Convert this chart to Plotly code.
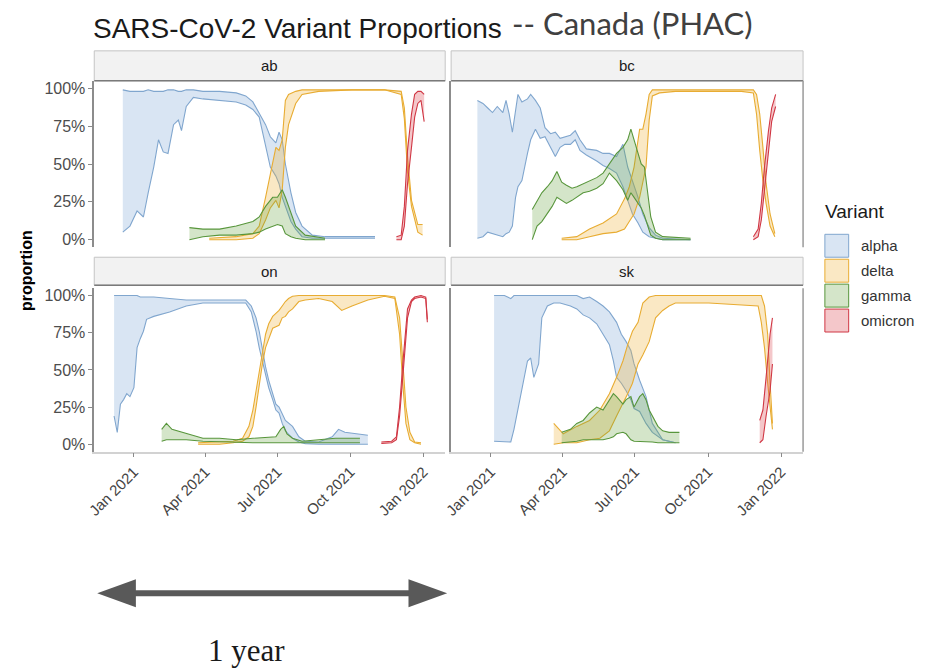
import plotly.graph_objects as go
import pandas as pd

# ---------------- data (x = days since 2021-01-01, y = proportion) ----------------
AB_ALPHA_DAY = [-14,-5,4,12,18,25,31,37,43,50,56,60,66,75,87,108,129,141,150,158,166,172,179,183,187,191,198,204,212,225,241,304]
AB_ALPHA_HI = [.99,.98,.98,.98,.99,.98,.98,.98,.99,.99,.98,.98,.99,.99,.98,.98,.97,.95,.91,.83,.76,.68,.64,.71,.66,.50,.31,.18,.09,.03,.02,.02]
AB_ALPHA_LO = [.05,.09,.19,.15,.31,.48,.66,.58,.57,.76,.79,.72,.88,.94,.93,.92,.91,.89,.86,.81,.61,.48,.42,.37,.28,.22,.12,.07,.02,.01,.01,.01]

AB_DELTA_DAY = [95,129,150,158,166,172,179,183,187,191,195,204,212,233,275,316,337,341,345,350,358,364]
AB_DELTA_HI = [.01,.02,.04,.09,.28,.44,.61,.59,.66,.92,.96,.98,.99,.99,.99,.99,.98,.87,.55,.26,.10,.10]
AB_DELTA_LO = [0,0,.01,.04,.13,.21,.26,.21,.33,.61,.76,.90,.96,.98,.99,.99,.96,.80,.45,.22,.05,.03]

AB_GAMMA_DAY = [70,87,108,129,150,158,166,175,181,187,191,198,204,216,241]
AB_GAMMA_HI = [.08,.07,.07,.09,.12,.15,.22,.28,.28,.33,.28,.17,.09,.03,.01]
AB_GAMMA_LO = [0,.02,.03,.03,.04,.05,.07,.09,.10,.09,.04,.02,.01,0,0]

AB_OMICRON_DAY = [331,337,341,345,350,354,358,362,366]
AB_OMICRON_HI = [.02,.03,.22,.59,.83,.96,.98,.98,.96]
AB_OMICRON_LO = [0,0,.09,.37,.61,.81,.90,.92,.78]

BC_ALPHA_DAY = [-17,-10,-4,2,8,15,19,23,27,31,34,39,46,50,56,62,68,75,81,87,93,100,106,112,120,133,141,149,158,166,172,178,185,191,199,207,216,251]
BC_ALPHA_HI = [.92,.90,.87,.84,.88,.84,.92,.83,.71,.84,.96,.91,.93,.96,.92,.87,.74,.70,.71,.67,.68,.69,.72,.66,.60,.59,.57,.57,.55,.63,.48,.39,.28,.17,.08,.03,.01,0]
BC_ALPHA_LO = [.01,.02,.05,.04,.03,.02,.04,.05,.09,.28,.35,.39,.57,.66,.73,.67,.68,.61,.55,.61,.63,.63,.66,.59,.56,.52,.49,.47,.44,.35,.26,.17,.11,.05,.02,.01,0,0]

BC_DELTA_DAY = [89,108,124,141,158,168,174,180,187,191,195,199,203,212,232,274,315,330,334,338,342,346,351,357]
BC_DELTA_HI = [.01,.02,.07,.11,.17,.27,.35,.48,.73,.73,.83,.96,.99,.99,.99,.99,.99,.99,.96,.83,.61,.37,.17,.04]
BC_DELTA_LO = [0,0,.02,.04,.05,.07,.12,.17,.28,.39,.48,.79,.95,.97,.98,.98,.98,.97,.83,.59,.39,.24,.09,.02]

BC_GAMMA_DAY = [52,58,64,71,77,83,89,95,102,108,116,124,133,141,149,158,166,172,176,180,185,189,193,197,201,207,216,251]
BC_GAMMA_HI = [.20,.26,.31,.35,.39,.45,.38,.36,.34,.35,.37,.39,.41,.44,.50,.57,.61,.66,.73,.66,.57,.50,.48,.33,.15,.05,.02,.01]
BC_GAMMA_LO = [0,.09,.12,.17,.22,.28,.26,.24,.26,.28,.31,.32,.34,.37,.44,.39,.33,.26,.31,.28,.24,.21,.16,.09,.03,.01,0,0]

BC_OMICRON_DAY = [330,336,340,344,349,353,358]
BC_OMICRON_HI = [.02,.07,.24,.48,.72,.87,.96]
BC_OMICRON_LO = [0,.02,.13,.33,.55,.78,.88]

ON_ALPHA_DAY = [-25,-21,-17,-13,-9,-5,0,4,8,12,16,25,45,66,87,108,129,141,148,154,158,162,166,170,175,179,183,187,191,200,208,216,233,250,258,266,295]
ON_ALPHA_HI = [1,1,1,1,1,1,1,1,.99,.99,.99,.99,.98,.97,.97,.97,.97,.97,.93,.85,.76,.63,.52,.43,.34,.27,.25,.21,.16,.12,.05,.02,.015,.05,.10,.08,.06]
ON_ALPHA_LO = [.19,.08,.27,.30,.34,.32,.38,.65,.71,.76,.84,.86,.89,.93,.95,.95,.95,.95,.89,.76,.65,.56,.49,.38,.30,.23,.21,.14,.09,.04,.015,.004,0,0,0,0,0]

ON_DELTA_DAY = [81,108,125,137,145,150,154,158,162,166,170,175,179,183,187,191,195,200,208,216,233,250,262,275,295,316,329,335,339,343,348,354,362]
ON_DELTA_HI = [.01,.015,.02,.04,.12,.23,.36,.49,.63,.74,.81,.86,.88,.90,.93,.96,.98,.995,1,1,1,1,1,1,1,1,.99,.85,.56,.25,.08,.015,.01]
ON_DELTA_LO = [0,0,.01,.02,.05,.12,.25,.41,.54,.65,.71,.78,.79,.80,.85,.86,.89,.91,.96,.97,.98,.96,.90,.93,.97,.995,.98,.74,.41,.14,.03,.01,0]

ON_GAMMA_DAY = [35,41,48,54,66,87,108,129,150,170,179,185,189,193,200,212,233,254,275,285]
ON_GAMMA_HI = [.10,.14,.10,.09,.07,.04,.04,.03,.04,.05,.05,.10,.12,.07,.04,.02,.03,.04,.04,.04]
ON_GAMMA_LO = [.02,.03,.03,.03,.03,.02,.015,.01,.01,.01,.01,.01,.01,.01,.01,.01,.01,.01,.01,.01]

ON_OMICRON_DAY = [312,325,331,335,339,342,345,350,354,362,368,370]
ON_OMICRON_HI = [.015,.02,.05,.25,.54,.73,.91,.97,.99,1.0,.99,.84]
ON_OMICRON_LO = [.005,.01,.03,.19,.45,.67,.85,.96,.98,.99,.98,.82]

SK_ALPHA_DAY = [4,17,25,29,33,37,41,46,50,54,60,64,71,79,87,100,108,116,124,133,141,149,154,158,164,170,176,180,187,195,203,216,232]
SK_ALPHA_HI = [1,1,.98,1,1,1,1,1,1,1,1,1,1,1,1,1,1,.98,.99,.96,.93,.89,.85,.82,.74,.69,.63,.54,.43,.32,.14,.03,.01]
SK_ALPHA_LO = [.02,.02,.015,.10,.21,.30,.41,.56,.58,.45,.54,.85,.93,.95,.95,.93,.91,.87,.85,.81,.74,.67,.56,.45,.41,.36,.30,.24,.22,.14,.08,.03,.01]

SK_DELTA_DAY = [79,91,108,124,137,149,158,166,172,178,185,191,199,207,216,224,232,274,315,336,340,344,348,351,354]
SK_DELTA_HI = [.14,.07,.12,.16,.23,.34,.45,.56,.67,.76,.82,.95,.99,1,1,1,1,1,1,1,1,.93,.74,.41,.14]
SK_DELTA_LO = [0,.01,.01,.03,.04,.09,.19,.27,.34,.41,.54,.60,.69,.85,.90,.93,.95,.95,.94,.93,.82,.65,.41,.23,.10]

SK_GAMMA_DAY = [89,100,108,116,124,133,141,149,154,158,166,170,176,180,187,191,195,199,203,210,216,224,237]
SK_GAMMA_HI = [.08,.10,.14,.16,.21,.25,.23,.30,.34,.32,.27,.30,.32,.25,.32,.34,.30,.23,.19,.12,.09,.08,.08]
SK_GAMMA_LO = [.01,.015,.02,.03,.03,.03,.03,.04,.05,.07,.08,.07,.03,.02,.02,.02,.02,.02,.015,.01,.01,.01,.01]

SK_OMICRON_DAY = [338,342,346,351,354]
SK_OMICRON_HI = [.16,.23,.45,.74,.85]
SK_OMICRON_LO = [.01,.03,.19,.36,.54]

PROVINCES = ["ab", "bc", "on", "sk"]
VARIANTS = ["alpha", "delta", "gamma", "omicron"]
Y_TICKS = [0, 0.25, 0.5, 0.75, 1.0]
Y_TICKTEXT = ["0%", "25%", "50%", "75%", "100%"]
X_TICKS = ["2021-01-01", "2021-04-01", "2021-07-01", "2021-10-01", "2022-01-01"]
X_TICKTEXT = ["Jan 2021", "Apr 2021", "Jul 2021", "Oct 2021", "Jan 2022"]

SERIES = {
    "ab": [(AB_ALPHA_DAY, AB_ALPHA_LO, AB_ALPHA_HI), (AB_DELTA_DAY, AB_DELTA_LO, AB_DELTA_HI),
           (AB_GAMMA_DAY, AB_GAMMA_LO, AB_GAMMA_HI), (AB_OMICRON_DAY, AB_OMICRON_LO, AB_OMICRON_HI)],
    "bc": [(BC_ALPHA_DAY, BC_ALPHA_LO, BC_ALPHA_HI), (BC_DELTA_DAY, BC_DELTA_LO, BC_DELTA_HI),
           (BC_GAMMA_DAY, BC_GAMMA_LO, BC_GAMMA_HI), (BC_OMICRON_DAY, BC_OMICRON_LO, BC_OMICRON_HI)],
    "on": [(ON_ALPHA_DAY, ON_ALPHA_LO, ON_ALPHA_HI), (ON_DELTA_DAY, ON_DELTA_LO, ON_DELTA_HI),
           (ON_GAMMA_DAY, ON_GAMMA_LO, ON_GAMMA_HI), (ON_OMICRON_DAY, ON_OMICRON_LO, ON_OMICRON_HI)],
    "sk": [(SK_ALPHA_DAY, SK_ALPHA_LO, SK_ALPHA_HI), (SK_DELTA_DAY, SK_DELTA_LO, SK_DELTA_HI),
           (SK_GAMMA_DAY, SK_GAMMA_LO, SK_GAMMA_HI), (SK_OMICRON_DAY, SK_OMICRON_LO, SK_OMICRON_HI)],
}

LINE_C = {"alpha": "rgb(128,166,206)", "delta": "rgb(232,172,50)",
          "gamma": "rgb(88,150,60)", "omicron": "rgb(208,55,68)"}
FILL_C = {"alpha": "rgba(130,170,215,0.30)", "delta": "rgba(240,180,60,0.30)",
          "gamma": "rgba(100,160,60,0.28)", "omicron": "rgba(220,70,80,0.30)"}

# ---------------- layout geometry (pixels) ----------------
W, H = 926, 671
def fx(x): return x / W
def fy(y): return 1 - y / H

COLS = [(87, 441), (447, 802)]
ROWS = [(80, 247), (288, 452)]
STRIPS = [(50, 80), (257, 285)]
BASE = pd.Timestamp("2021-01-01")
X_RANGE = ["2020-11-12", "2022-01-28 12:00"]

fig = go.Figure()
FONT = "Liberation Sans, Arial, sans-serif"

for i, prov in enumerate(PROVINCES):
    r, c = divmod(i, 2)
    ax = "" if i == 0 else str(i + 1)
    for v, (days, lo, hi) in zip(VARIANTS, SERIES[prov]):
        xs = [(BASE + pd.Timedelta(days=d)).strftime("%Y-%m-%d") for d in days]
        fig.add_trace(go.Scatter(x=xs, y=lo, mode="lines", xaxis="x" + ax, yaxis="y" + ax,
                                 line=dict(color=LINE_C[v], width=1.1), hoverinfo="skip",
                                 showlegend=False))
        fig.add_trace(go.Scatter(x=xs, y=hi, mode="lines", xaxis="x" + ax, yaxis="y" + ax,
                                 fill="tonexty", fillcolor=FILL_C[v],
                                 line=dict(color=LINE_C[v], width=1.1), hoverinfo="skip",
                                 showlegend=False))
    x0, x1 = COLS[c]
    y0, y1 = ROWS[r]
    xa = dict(domain=[fx(x0), fx(x1)], anchor="y" + ax, type="date", range=X_RANGE,
              showgrid=False, zeroline=False, fixedrange=True)
    if r == 1:
        xa.update(tickvals=X_TICKS, ticktext=X_TICKTEXT, tickangle=-45, ticks="outside",
                  ticklen=4, tickcolor="#8a8a8a", tickwidth=1,
                  tickfont=dict(family=FONT, size=15, color="#444444"),
                  showline=True, linecolor="#d2d2d2", linewidth=1.5)
    else:
        xa.update(showticklabels=False, ticks="", showline=False)
    ya = dict(domain=[fy(y1), fy(y0)], anchor="x" + ax, range=[-0.05, 1.05],
              showgrid=False, zeroline=False, fixedrange=True,
              showline=True, linecolor="#8c8c8c", linewidth=1.5)
    if c == 0:
        ya.update(tickvals=Y_TICKS, ticktext=Y_TICKTEXT, ticks="outside", ticklen=4,
                  tickcolor="#8a8a8a", tickwidth=1,
                  tickfont=dict(family=FONT, size=16, color="#4d4d4d"))
    else:
        ya.update(showticklabels=False, ticks="")
    fig.layout["xaxis" + ax] = xa
    fig.layout["yaxis" + ax] = ya

shapes = []
annotations = []
for i, prov in enumerate(PROVINCES):
    r, c = divmod(i, 2)
    x0, x1 = COLS[c]
    s0, s1 = STRIPS[r]
    shapes.append(dict(type="rect", xref="paper", yref="paper", x0=fx(x0), x1=fx(x1),
                       y0=fy(s1), y1=fy(s0), fillcolor="#f2f2f2",
                       line=dict(color="#c4c4c4", width=1), layer="below"))
    shapes.append(dict(type="line", xref="paper", yref="paper", x0=fx(x0), x1=fx(x1),
                       y0=fy(s1), y1=fy(s1), line=dict(color="#7a7a7a", width=1.5)))
    annotations.append(dict(text=prov, xref="paper", yref="paper", x=fx((x0 + x1) / 2),
                            y=fy((s0 + s1) / 2), showarrow=False, xanchor="center",
                            yanchor="middle", font=dict(family=FONT, size=15, color="#1a1a1a")))
    if c == 1:
        y0, y1 = ROWS[r]
        shapes.append(dict(type="line", xref="paper", yref="paper", x0=fx(x1), x1=fx(x1),
                           y0=fy(y1), y1=fy(y0), line=dict(color="#9a9a9a", width=1.5)))

# legend (manual)
LEG_Y = [233, 258, 283, 308]
annotations.append(dict(text="Variant", xref="paper", yref="paper", x=fx(822), y=fy(211),
                        xanchor="left", yanchor="middle", showarrow=False,
                        font=dict(family=FONT, size=19, color="#1a1a1a")))
for v, ly in zip(VARIANTS, LEG_Y):
    shapes.append(dict(type="rect", xref="paper", yref="paper", x0=fx(824), x1=fx(848),
                       y0=fy(ly + 24), y1=fy(ly + 1), fillcolor=FILL_C[v],
                       line=dict(color=LINE_C[v], width=1)))
    annotations.append(dict(text=v, xref="paper", yref="paper", x=fx(858), y=fy(ly + 12),
                            xanchor="left", yanchor="middle", showarrow=False,
                            font=dict(family=FONT, size=15, color="#333333")))

# titles
annotations.append(dict(text="SARS-CoV-2 Variant Proportions", xref="paper", yref="paper",
                        x=fx(84), y=fy(28), xanchor="left", yanchor="middle", showarrow=False,
                        font=dict(family=FONT, size=28, color="#1a1a1a")))
annotations.append(dict(text="-- Canada (PHAC)", xref="paper", yref="paper",
                        x=fx(506), y=fy(22), xanchor="left", yanchor="middle", showarrow=False,
                        font=dict(family="Lato, Open Sans, sans-serif", size=31, color="#404040")))
annotations.append(dict(text="<b>proportion</b>", xref="paper", yref="paper",
                        x=fx(18), y=fy(270), xanchor="center", yanchor="middle",
                        textangle=-90, showarrow=False,
                        font=dict(family=FONT, size=16, color="#000000")))

# double arrow + "1 year"
AC = "#595959"
shapes.append(dict(type="line", xref="paper", yref="paper", x0=fx(126), x1=fx(406),
                   y0=fy(594), y1=fy(594), line=dict(color=AC, width=6)))
shapes.append(dict(type="path", xref="paper", yref="paper",
                   path=f"M {fx(90)},{fy(594)} L {fx(129)},{fy(580)} L {fx(129)},{fy(608)} Z",
                   fillcolor=AC, line=dict(color=AC, width=0)))
shapes.append(dict(type="path", xref="paper", yref="paper",
                   path=f"M {fx(443)},{fy(594)} L {fx(404)},{fy(580)} L {fx(404)},{fy(608)} Z",
                   fillcolor=AC, line=dict(color=AC, width=0)))
annotations.append(dict(text="1 year", xref="paper", yref="paper", x=fx(241), y=fy(651),
                        xanchor="center", yanchor="middle", showarrow=False,
                        font=dict(family="Liberation Serif, DejaVu Serif, serif", size=31,
                                  color="#1a1a1a")))

fig.update_layout(width=W, height=H, margin=dict(l=0, r=0, t=0, b=0),
                  paper_bgcolor="white", plot_bgcolor="white",
                  shapes=shapes, annotations=annotations, showlegend=False)

fig.write_html("out.html")
